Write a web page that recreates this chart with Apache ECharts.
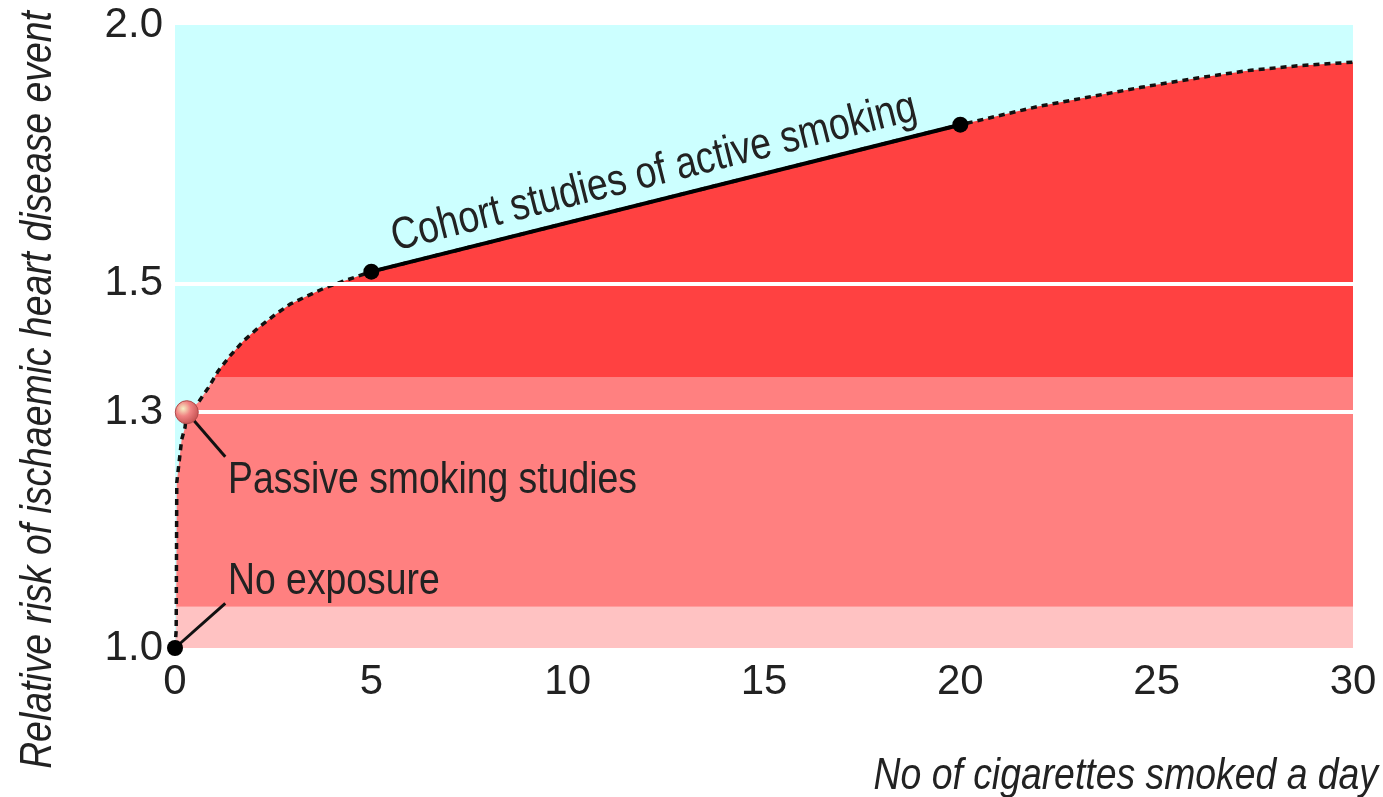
<!DOCTYPE html>
<html lang="en">
<head>
<meta charset="utf-8">
<title>Relative risk of ischaemic heart disease</title>
<script src="https://cdn.jsdelivr.net/npm/echarts@6/dist/echarts.min.js"></script>
<style>
  html, body { margin: 0; padding: 0; background: #fff; }
  #chart { width: 1383px; height: 797px; }
</style>
</head>
<body>
<div id="chart"></div>
<script type="text/javascript">
    // dose response curve (cigarettes a day, relative risk)
    let curveX = [0, 0.03, 0.04, 0.045, 0.17, 0.255, 0.3, 0.59, 0.85, 1.1, 1.4, 1.74, 2.12, 2.55, 2.93, 3.35, 3.82, 4.24, 5, 20, 22, 24.6, 26, 27.4, 28.7, 30];
    let curveY = [1.0, 1.02, 1.128, 1.202, 1.261, 1.278, 1.3, 1.314, 1.336, 1.361, 1.384, 1.407, 1.428, 1.449, 1.466, 1.479, 1.493, 1.503, 1.52, 1.79, 1.827, 1.866, 1.885, 1.902, 1.912, 1.919];

    // solid segment: cohort studies
    let cohortX = [5, 20];
    let cohortY = [1.52, 1.79];

    // black dots
    let dotX = [0, 5, 20];
    let dotY = [1.0, 1.52, 1.79];

    // passive smoking point
    let passiveX = [0.3];
    let passiveY = [1.3];

    // colour bands: [from, to]
    let bandLimits = [1.0, 1.047, 1.351, 2.0];
    let bandColors = ['#ffc2c2', '#ff8080', '#ff4141'];

    // leader lines of the notes: [x0, y0, x1, y1]
    let passiveLeader = [0.3, 1.3, 1.28, 1.237];
    let noneLeader = [0, 1.0, 1.28, 1.051];

    let xTicks = [0, 5, 10, 15, 20, 25, 30];
    let yTicks = [1.0, 1.3, 1.5, 2.0];
    let whiteLines = [1.3, 1.5];

    let fontName = "'Liberation Sans', Arial, sans-serif";
    let squeeze = 0.83;

    let curveData = curveX.map((x, i) => [x, curveY[i]]);
    let dotData = dotX.map((x, i) => [x, dotY[i]]);
    let passiveData = passiveX.map((x, i) => [x, passiveY[i]]);

    let bandAreas = [];
    bandColors.forEach((c, i) => {
        bandAreas.push([
            { yAxis: bandLimits[i], itemStyle: { color: c } },
            { yAxis: bandLimits[i + 1] }
        ]);
    });

    function note(text, x, y, opts) {
        opts = opts || {};
        return {
            type: 'text',
            x: x,
            y: y,
            z: 100,
            rotation: opts.rotation || 0,
            scaleX: squeeze,
            style: {
                text: text,
                font: (opts.italic ? 'italic ' : '') + '45px ' + fontName,
                fill: '#222',
                align: opts.align || 'left',
                verticalAlign: 'middle',
                textAlign: opts.align || 'left',
                textVerticalAlign: 'middle'
            }
        };
    }

    let Chart = echarts.init(document.getElementById('chart'));

    let option = {
        animation: false,
        grid: { left: 175, right: 30, top: 25, bottom: 149 },
        xAxis: {
            type: 'value',
            min: 0,
            max: 30,
            interval: 5,
            axisLine: { show: false },
            axisTick: { show: true, inside: true, length: 8, lineStyle: { color: '#fff', width: 3 } },
            splitLine: { show: false },
            axisLabel: {
                fontSize: 42,
                fontFamily: fontName,
                color: '#222',
                margin: 13,
                formatter: (v) => xTicks.indexOf(v) >= 0 ? String(v) : ''
            }
        },
        yAxis: {
            type: 'log',
            logBase: 10,
            min: 1,
            max: 2,
            axisLine: { show: false },
            axisTick: { show: false },
            splitLine: { show: false },
            axisLabel: {
                customValues: yTicks,
                fontSize: 42,
                fontFamily: fontName,
                color: '#222',
                margin: 12,
                formatter: (v) => Number(v).toFixed(1)
            }
        },
        graphic: [
            note('Relative risk of ischaemic heart disease event', 38, 390, { rotation: Math.PI / 2, align: 'center', italic: true }),
            note('No of cigarettes smoked a day', 1378, 776, { align: 'right', italic: true }),
            note('Cohort studies of active smoking', 654, 173, { rotation: 0.2458, align: 'center' }),
            note('Passive smoking studies', 228, 481),
            note('No exposure', 228, 582)
        ],
        series: [
            {
                name: 'bands',
                type: 'line',
                data: [],
                z: 1,
                silent: true,
                markArea: {
                    silent: true,
                    data: bandAreas
                }
            },
            {
                name: 'curve',
                type: 'line',
                data: curveData,
                z: 2,
                symbol: 'none',
                silent: true,
                lineStyle: { color: '#111', width: 3.5, type: [6, 5] },
                areaStyle: { color: '#ccffff', origin: 'end', opacity: 1 },
                markLine: {
                    silent: true,
                    symbol: 'none',
                    label: { show: false },
                    lineStyle: { color: '#fff', width: 4, type: 'solid' },
                    data: whiteLines.map((v) => ({ yAxis: v }))
                }
            },
            {
                name: 'lines',
                type: 'line',
                data: [],
                z: 3,
                silent: true,
                markLine: {
                    silent: true,
                    symbol: 'none',
                    label: { show: false },
                    data: [
                        [
                            { coord: [cohortX[0], cohortY[0]], lineStyle: { color: '#000', width: 4, type: 'solid' } },
                            { coord: [cohortX[1], cohortY[1]] }
                        ],
                        [
                            { coord: [passiveLeader[0], passiveLeader[1]], lineStyle: { color: '#111', width: 3, type: 'solid' } },
                            { coord: [passiveLeader[2], passiveLeader[3]] }
                        ],
                        [
                            { coord: [noneLeader[0], noneLeader[1]], lineStyle: { color: '#111', width: 3, type: 'solid' } },
                            { coord: [noneLeader[2], noneLeader[3]] }
                        ]
                    ]
                }
            },
            {
                name: 'dots',
                type: 'scatter',
                data: dotData,
                z: 5,
                silent: true,
                symbolSize: 16,
                itemStyle: { color: '#000', opacity: 1 }
            },
            {
                name: 'passive',
                type: 'scatter',
                data: passiveData,
                z: 6,
                silent: true,
                symbolSize: 23,
                itemStyle: {
                    opacity: 1,
                    color: new echarts.graphic.RadialGradient(0.35, 0.35, 0.7, [
                        { offset: 0, color: '#f6f0c4' },
                        { offset: 0.45, color: '#f08282' },
                        { offset: 1, color: '#c45050' }
                    ]),
                    borderColor: '#b04a4a',
                    borderWidth: 1
                }
            }
        ]
    };

    Chart.setOption(option);
</script>
</body>
</html>
